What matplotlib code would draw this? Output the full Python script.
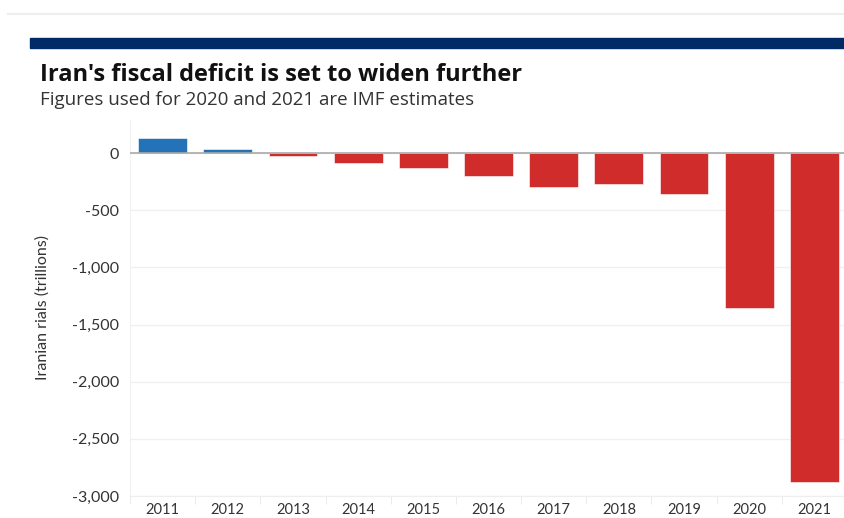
import matplotlib.pyplot as plt
from matplotlib.ticker import FuncFormatter, FixedLocator
from matplotlib.patches import Rectangle
from matplotlib.lines import Line2D

years = ["2011", "2012", "2013", "2014", "2015", "2016",
         "2017", "2018", "2019", "2020", "2021"]
deficit = [131, 35, -24, -88, -127, -198, -297, -271, -359, -1356, -2878]

blue = "#2472b8"
red = "#cf2c2b"
navy = "#002b66"

plt.rcParams["font.family"] = ["Lato", "DejaVu Sans"]
plt.rcParams["axes.unicode_minus"] = False

fig = plt.figure(figsize=(8.45, 5.18), dpi=100)

# header decorations
fig.add_artist(Line2D([8 / 845, 1], [1 - 14 / 518] * 2, color="#eeeeee", lw=1.5))
fig.add_artist(Rectangle((30 / 845, 1 - 48 / 518), 1, 10 / 518,
                         color=navy, transform=fig.transFigure))
fig.text(40 / 845, 1 - 75 / 518, "Iran's fiscal deficit is set to widen further",
         fontsize=17, fontweight="bold", color="#111111", va="center",
         family=["Open Sans", "DejaVu Sans"])
fig.text(40 / 845, 1 - 100 / 518, "Figures used for 2020 and 2021 are IMF estimates",
         fontsize=13.5, color="#333333", va="center",
         family=["Open Sans", "DejaVu Sans"])

ax = fig.add_axes([130 / 845, 22 / 518, 717 / 845, 376 / 518])
x = range(len(years))
colors = [blue if v >= 0 else red for v in deficit]
ax.bar(x, deficit, width=0.75, color=colors, edgecolor="white", linewidth=0.4, zorder=3)
ax.axhline(0, color="#aaaaaa", lw=1.2, zorder=4)

ax.set_xlim(-0.5, len(years) - 0.5)
ax.set_ylim(-3000, 290)
ax.set_yticks([0, -500, -1000, -1500, -2000, -2500, -3000])
ax.yaxis.set_major_formatter(FuncFormatter(lambda v, p: f"{int(v):,}"))
ax.set_xticks(list(x))
ax.set_xticklabels(years)
ax.xaxis.set_minor_locator(FixedLocator([i + 0.5 for i in range(-1, len(years))]))

ax.grid(axis="y", color="#f0f0f0", lw=1, zorder=0)
for s in ["top", "right"]:
    ax.spines[s].set_visible(False)
ax.spines["left"].set_color("#f2f2f2")
ax.spines["bottom"].set_color("#eeeeee")
ax.tick_params(axis="y", length=0, pad=8, labelsize=11.5, labelcolor="#333333")
ax.tick_params(axis="x", which="major", length=0, pad=5, labelsize=10.5, labelcolor="#333333")
ax.tick_params(axis="x", which="minor", length=6, color="#e6e6e6")

ax.set_ylabel("Iranian rials (trillions)", fontsize=11.5, color="#333333")
ax.yaxis.set_label_coords(-0.112, 0.5)

fig.savefig("out.png", dpi=100)
